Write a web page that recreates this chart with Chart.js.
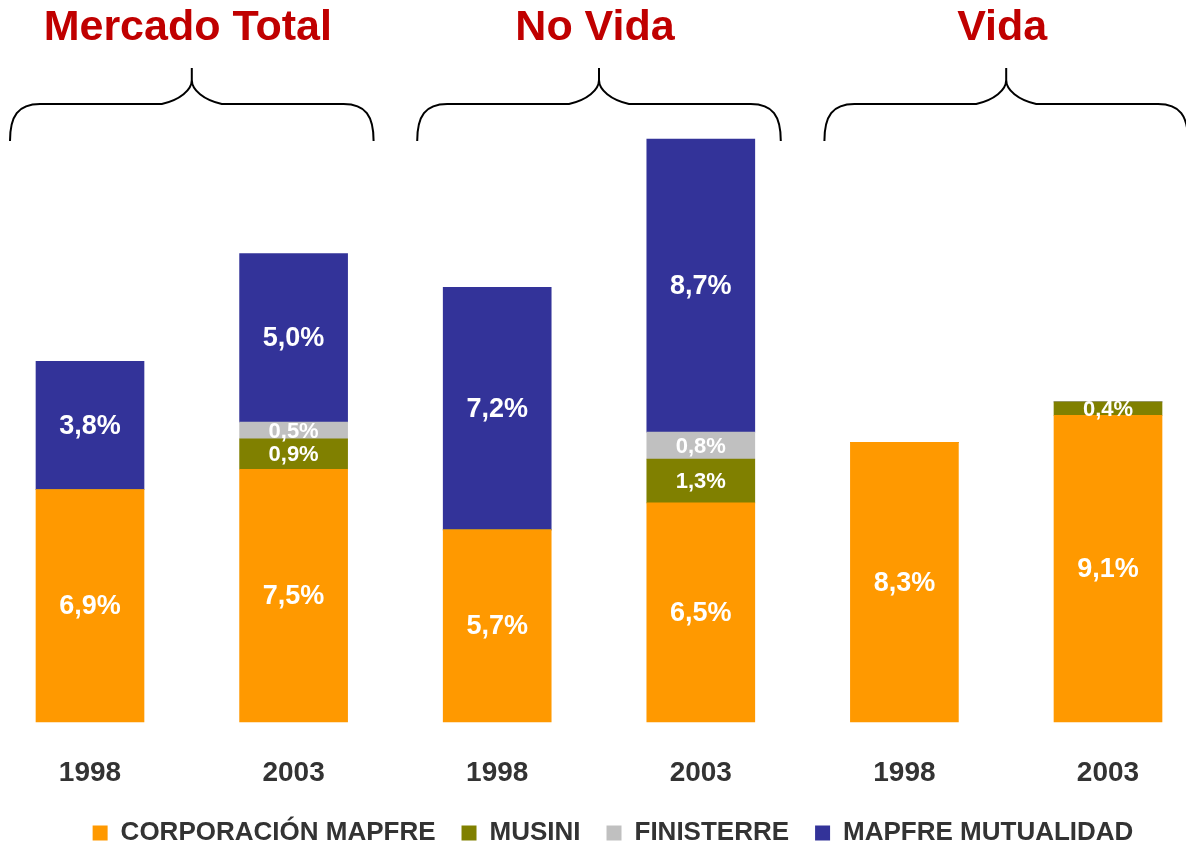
<!DOCTYPE html>
<html lang="es">
<head>
  <meta charset="UTF-8">
  <title>Cuota de mercado</title>
  <style>
    body { margin: 0; background: #fff; }
  </style>
</head>
<body>
  <canvas id="myChart" width="1186" height="846"></canvas>

  <script src="https://cdn.jsdelivr.net/npm/chart.js"></script>

  <script>
    const years = ['1998', '2003', '1998', '2003', '1998', '2003'];
    const groups = ['Mercado Total', 'No Vida', 'Vida'];

    const corporacion = [6.9, 7.5, 5.7, 6.5, 8.3, 9.1];
    const musini = [0, 0.9, 0, 1.3, 0, 0.4];
    const finisterre = [0, 0.5, 0, 0.8, 0, 0];
    const mutualidad = [3.8, 5.0, 7.2, 8.7, 0, 0];

    const FONT = "'Liberation Sans', Arial, sans-serif";
    const BAR_W = 108;

    // labels inside each segment, white bold with comma decimals
    const segmentLabels = {
      id: 'segmentLabels',
      afterDatasetsDraw(chart) {
        const ctx = chart.ctx;
        ctx.save();
        ctx.fillStyle = '#fff';
        ctx.textAlign = 'center';
        ctx.textBaseline = 'middle';
        chart.data.datasets.forEach((ds, i) => {
          chart.getDatasetMeta(i).data.forEach((bar, j) => {
            const v = ds.data[j];
            if (!v) return;
            ctx.font = 'bold ' + (v < 1.5 ? 22 : 27) + 'px ' + FONT;
            const txt = v.toFixed(1).replace('.', ',') + '%';
            ctx.fillText(txt, bar.x, (bar.y + bar.base) / 2 + 1);
          });
        });
        ctx.restore();
      }
    };

    // group titles and curly braces above the bars
    const groupHeaders = {
      id: 'groupHeaders',
      afterDraw(chart) {
        const ctx = chart.ctx;
        const x = chart.scales.x;
        ctx.save();
        groups.forEach((name, g) => {
          const left = x.getPixelForValue(g * 2) - BAR_W / 2 - 26;
          const right = x.getPixelForValue(g * 2 + 1) + BAR_W / 2 + 26;
          const mid = (left + right) / 2;

          ctx.fillStyle = '#C00000';
          ctx.font = 'bold 43px ' + FONT;
          ctx.textAlign = 'center';
          ctx.textBaseline = 'alphabetic';
          ctx.fillText(name, mid - 4, 40);

          const top = 68, yh = 104, bot = 141;
          ctx.strokeStyle = '#000';
          ctx.lineWidth = 2;
          ctx.beginPath();
          ctx.moveTo(left, bot);
          ctx.bezierCurveTo(left, yh + 12, left + 8, yh, left + 30, yh);
          ctx.lineTo(mid - 30, yh);
          ctx.bezierCurveTo(mid - 12, yh - 4, mid, yh - 14, mid, top + 12);
          ctx.lineTo(mid, top);
          ctx.moveTo(mid, top + 12);
          ctx.bezierCurveTo(mid, yh - 14, mid + 12, yh - 4, mid + 30, yh);
          ctx.lineTo(right - 30, yh);
          ctx.bezierCurveTo(right - 8, yh, right, yh + 12, right, bot);
          ctx.stroke();
        });
        ctx.restore();
      }
    };

    const common = { barThickness: BAR_W, clip: false, borderWidth: 0 };
    // invisible side axes, only used to reserve room left and right of the bars
    const hiddenAxis = {
      grid: { display: false, drawTicks: false },
      border: { display: false },
      ticks: { display: false }
    };

    new Chart(document.getElementById('myChart'), {
      type: 'bar',
      data: {
        labels: years,
        datasets: [
          { label: 'CORPORACIÓN MAPFRE', data: corporacion, backgroundColor: '#FF9900', ...common },
          { label: 'MUSINI', data: musini, backgroundColor: '#808000', ...common },
          { label: 'FINISTERRE', data: finisterre, backgroundColor: '#C0C0C0', ...common },
          { label: 'MAPFRE MUTUALIDAD', data: mutualidad, backgroundColor: '#333399', ...common }
        ]
      },
      plugins: [segmentLabels, groupHeaders],
      options: {
        responsive: false,
        animation: false,
        layout: { padding: { left: 40, right: 0, top: 48, bottom: -10 } },
        plugins: {
          tooltip: { enabled: false },
          legend: {
            position: 'bottom',
            labels: {
              boxWidth: 15,
              boxHeight: 15,
              padding: 26,
              color: '#333',
              font: { family: FONT, size: 26, weight: 'bold' }
            }
          }
        },
        scales: {
          x: {
            stacked: true,
            offset: false,
            grid: { display: false, drawTicks: false },
            border: { display: false },
            ticks: {
              color: '#333',
              padding: 34,
              font: { family: FONT, size: 28, weight: 'bold' }
            },
            afterFit(scale) { scale.height = 72; }
          },
          y: {
            ...hiddenAxis,
            stacked: true,
            min: 0,
            max: 20,
            afterFit(scale) { scale.width = 50; }
          },
          y2: {
            ...hiddenAxis,
            position: 'right',
            afterFit(scale) { scale.width = 78; }
          }
        }
      }
    });
  </script>
</body>
</html>
